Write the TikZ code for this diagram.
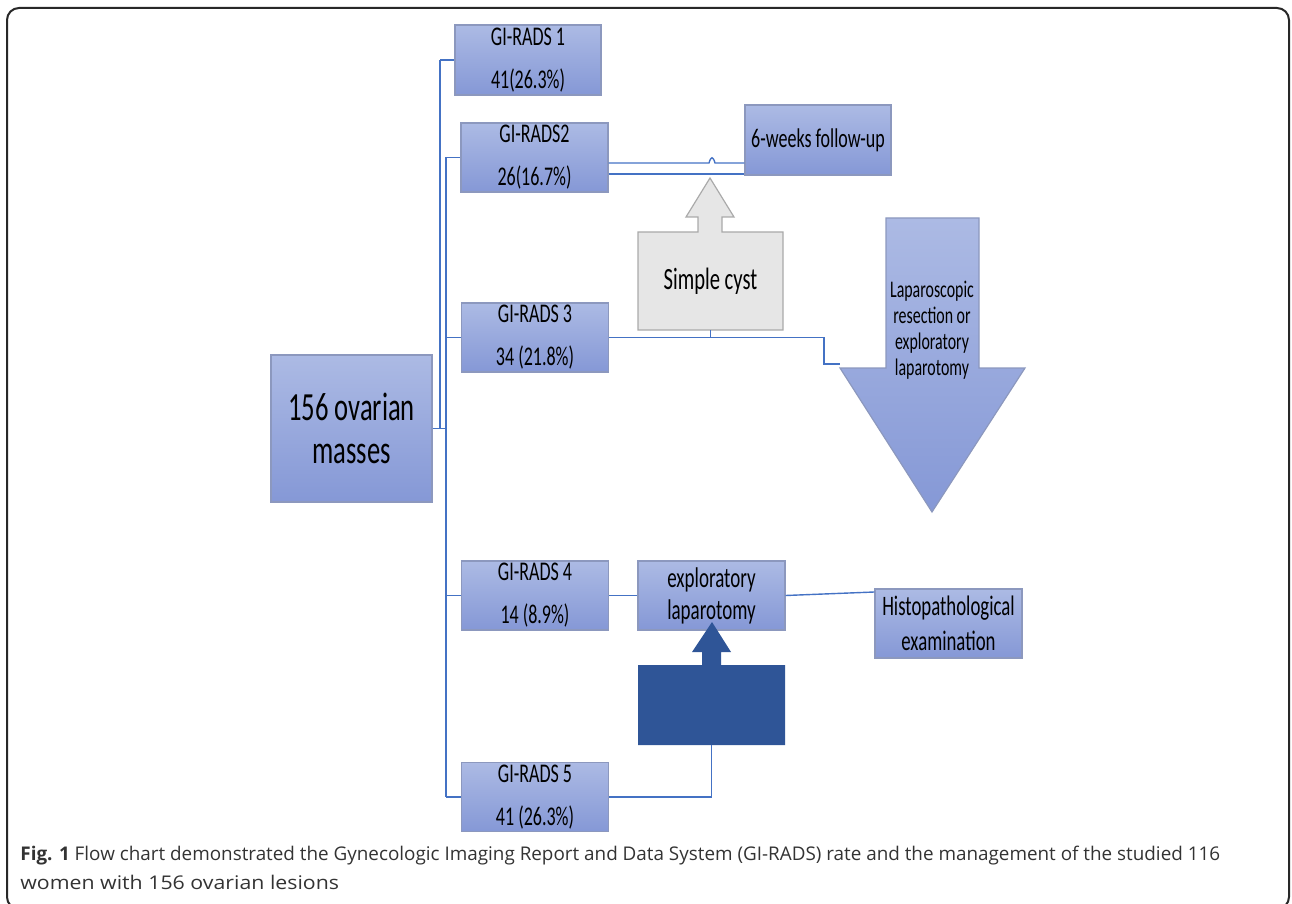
\documentclass[tikz,border=0pt]{standalone}
\usepackage{fontspec}
\setmainfont{Carlito}
\newfontfamily\capfont{Open Sans}
\usetikzlibrary{calc}
\newcommand{\tx}[1]{\scalebox{1}[1.5]{#1}}
\definecolor{boxtop}{RGB}{172,186,228}
\definecolor{boxbot}{RGB}{133,152,214}
\definecolor{boxline}{RGB}{140,152,190}
\definecolor{connc}{RGB}{68,114,196}
\definecolor{cystfill}{RGB}{230,230,230}
\definecolor{cystline}{RGB}{170,170,170}
\definecolor{darkarrow}{RGB}{47,85,151}
\definecolor{framecol}{RGB}{40,40,40}
\begin{document}
\begin{tikzpicture}[x=0.5pt,y=-0.5pt,
  gbox/.style={draw=boxline, line width=0.6pt, top color=boxtop, bottom color=boxbot,
    inner sep=0pt, align=center, minimum width=73.5pt, minimum height=34.5pt,
    font=\fontsize{9}{21.5}\selectfont},
  plain/.style={inner sep=0pt, align=center},
  conn/.style={draw=connc, line width=0.7pt},
  captext/.style={anchor=west, inner sep=0pt, font=\capfont\fontsize{9.43}{12}\selectfont, text=black!80},
]
\useasboundingbox (0,0) rectangle (1292,904);
\draw[framecol, line width=1pt, rounded corners=6pt] (7,8) rectangle (1289,909);

% main and GI-RADS boxes
\node[gbox, minimum width=80.5pt, minimum height=73.5pt, font=\fontsize{13.3}{21.5}\selectfont] (main) at (351.5,428.5) {\tx{156 ovarian}\\\tx{masses}};
\node[gbox, minimum width=73pt, minimum height=35pt] (g1) at (528,60) {\tx{GI-RADS 1}\\\tx{41(26.3\%)}};
\node[gbox] (g2) at (534.5,157.5) {\tx{GI-RADS2}\\\tx{26(16.7\%)}};
\node[gbox] (g3) at (535,337.5) {\tx{GI-RADS 3}\\\tx{34 (21.8\%)}};
\node[gbox] (g4) at (535,595.5) {\tx{GI-RADS 4}\\\tx{14 (8.9\%)}};
\node[gbox] (g5) at (535,797) {\tx{GI-RADS 5}\\\tx{41 (26.3\%)}};

% outcome boxes
\node[gbox, minimum width=73pt, minimum height=35pt] (fw) at (818,140) {\raisebox{1pt}{\tx{6-weeks follow-up}}};
\node[gbox, font=\fontsize{9.5}{16}\selectfont] (ex) at (711.5,595.5) {\tx{exploratory}\\\tx{laparotomy}};
\node[gbox, font=\fontsize{9.4}{17.5}\selectfont] (hp) at (948.5,623.5) {\tx{Histopathological}\\\tx{examination}};

% simple cyst block arrow
\path[draw=cystline, fill=cystfill, line width=0.6pt] (638,232) -- (698,232) -- (698,217) -- (686,217) -- (710,178) -- (734,217) -- (722,217) -- (722,232) -- (783,232) -- (783,330) -- (638,330) -- cycle;
\node[plain, minimum width=72.5pt, minimum height=49pt, font=\fontsize{10.3}{14}\selectfont] (cyst) at (710.5,281) {\tx{Simple cyst}};

% laparoscopic block arrow
\path[draw=boxline, line width=0.6pt, top color=boxtop, bottom color=boxbot] (886,218) -- (979,218) -- (979,368) -- (1025,368) -- (932,512) -- (840,368) -- (886,368) -- cycle;
\node[plain, font=\fontsize{7.95}{13}\selectfont] (lap) at (932,330) {\tx{Laparoscopic}\\\tx{resection or}\\\tx{exploratory}\\\tx{laparotomy}};
\coordinate (lapin) at (840,364);

% dark block arrow
\path[fill=darkarrow] (638,665) -- (702,665) -- (702,652) -- (692,652) -- (712,622) -- (731,652) -- (721,652) -- (721,665) -- (785,665) -- (785,745) -- (638,745) -- cycle;
\node[plain, minimum width=73.5pt, minimum height=40pt] (dark) at (711.5,705) {};

% caption
\node[captext] (cap1) at (20,856) {\textbf{Fig. 1} Flow chart demonstrated the Gynecologic Imaging Report and Data System (GI-RADS) rate and the management of the studied 116};
\node[captext] (cap2) at (20,882) {\scalebox{1.13}[1]{women with 156 ovarian lesions}};

% trunk coordinates
\coordinate (t1top) at (440,60);
\coordinate (t1bot) at (440,428.5);
\coordinate (t2top) at (446,157.5);
\coordinate (t2bot) at (446,797);
\coordinate (hi) at (0,163);
\coordinate (lo) at (0,174);
\coordinate (bend) at (824,337.5);

% connectors
\draw[conn] (main.east) -- (main.east -| t2top);
\draw[conn] (t1top) -- (t1bot);
\draw[conn] (t2top) -- (t2bot);
\draw[conn] (t1top) -- (g1.west);
\draw[conn] (t2top) -- (g2.west);
\draw[conn] (g3.west -| t2top) -- (g3.west);
\draw[conn] (g4.west -| t2top) -- (g4.west);
\draw[conn] (t2bot) -- (g5.west);
\draw[conn] (g2.east |- hi) -- (709,163) .. controls (711,156) and (713,156) .. (715,163) -- (fw.west |- hi);
\draw[conn] (g2.east |- lo) -- (fw.west |- lo);
\draw[conn] (g3.east) -- (bend) -- (bend |- lapin) -- (lapin);
\draw[conn] (cyst.south) -- (cyst.south |- g3.east);
\draw[conn] (g4.east) -- (ex.west);
\draw[conn] (ex.east) -- (hp.west |- 0,592);
\draw[conn] (g5.east) -- (dark.south |- g5.east) -- (dark.south);
\end{tikzpicture}
\end{document}
